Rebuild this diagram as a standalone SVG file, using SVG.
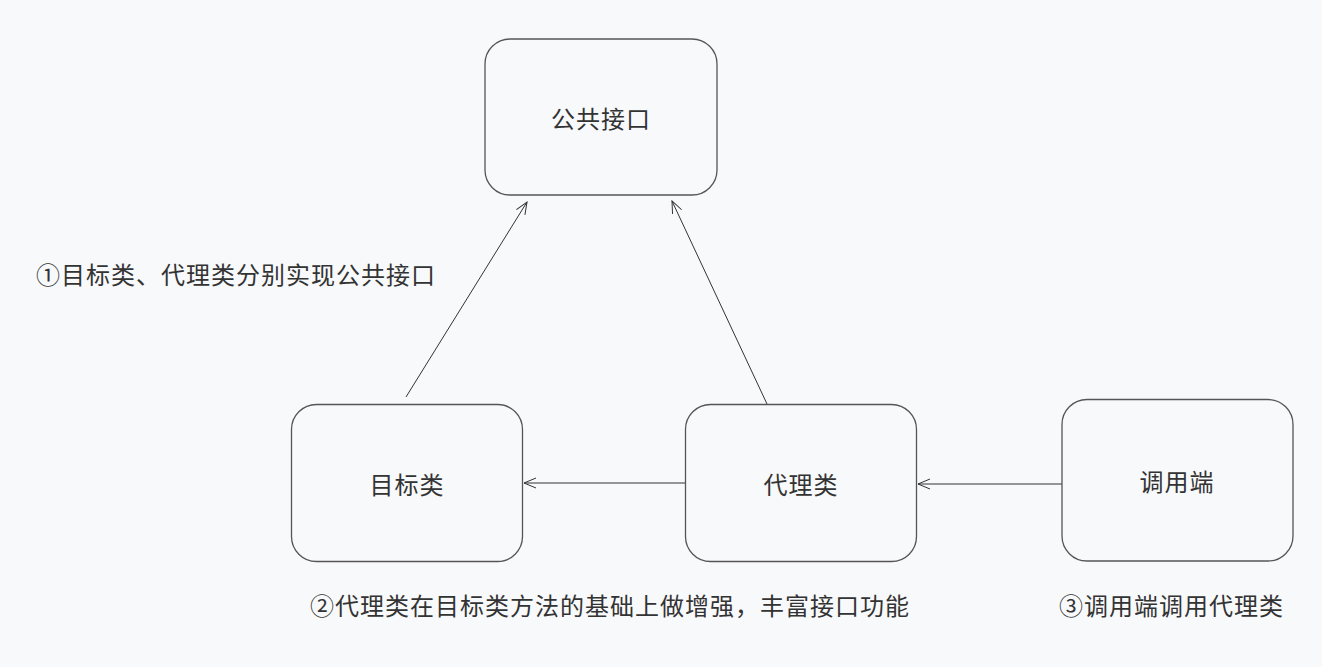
<svg xmlns="http://www.w3.org/2000/svg" width="1322" height="667" viewBox="0 0 1322 667">
<defs>
<style>
.node rect{fill:#f8f9fb;stroke:#555;stroke-width:1.3}
text{font-family:"Noto Sans CJK SC","Noto Sans",sans-serif;fill:#333;font-size:24px;letter-spacing:1px}
.node text{text-anchor:middle;dominant-baseline:central}
.edge{stroke:#333;stroke-width:1;fill:none;marker-end:url(#arr)}
</style>
<marker id="arr" viewBox="0 0 14 12" refX="13" refY="6" markerWidth="14" markerHeight="12" markerUnits="userSpaceOnUse" orient="auto">
<path d="M1,1 L13,6 L1,11" fill="none" stroke="#333" stroke-width="1"/>
</marker>
</defs>
<rect width="1322" height="667" fill="#f8f9fb"/>
<g id="connectors">
<line class="edge" x1="406" y1="397" x2="527" y2="202"/>
<line class="edge" x1="767" y1="404" x2="672" y2="201"/>
<line class="edge" x1="685" y1="483" x2="524" y2="483"/>
<line class="edge" x1="1062" y1="484" x2="918" y2="484"/>
</g>
<g id="node-interface" class="node">
<rect x="485" y="39" width="232" height="156" rx="25"/>
<text x="601" y="117">公共接口</text>
</g>
<g id="node-target" class="node">
<rect x="291.5" y="404.5" width="231" height="157" rx="25"/>
<text x="407" y="483">目标类</text>
</g>
<g id="node-proxy" class="node">
<rect x="685.5" y="404.5" width="231" height="157" rx="25"/>
<text x="801" y="483">代理类</text>
</g>
<g id="node-client" class="node">
<rect x="1062" y="399.5" width="231" height="161.5" rx="25"/>
<text x="1177" y="480">调用端</text>
</g>
<g id="labels">
<text x="36" y="284">①目标类、代理类分别实现公共接口</text>
<text x="310" y="615">②代理类在目标类方法的基础上做增强，丰富接口功能</text>
<text x="1059" y="615">③调用端调用代理类</text>
</g>
</svg>
